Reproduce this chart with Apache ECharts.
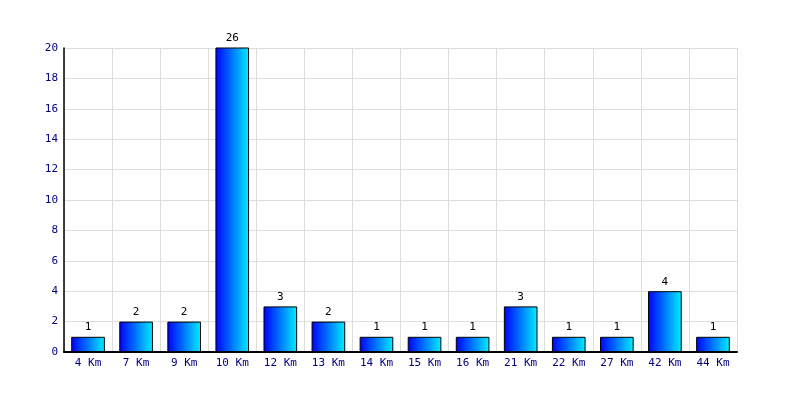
<!DOCTYPE html>
<html><head><meta charset="utf-8">
<script src="https://cdn.jsdelivr.net/npm/echarts@6/dist/echarts.min.js"></script>
<style>html,body{margin:0;padding:0;background:#fff}#c{width:800px;height:400px}</style>
</head><body><div id="c"></div>
<script>
const categories = ["4 Km","7 Km","9 Km","10 Km","12 Km","13 Km","14 Km","15 Km","16 Km","21 Km","22 Km","27 Km","42 Km","44 Km"];
const values = [1,2,2,26,3,2,1,1,1,3,1,1,4,1];
const yTicks = {min:0, max:20, interval:2};

const font = "DejaVu Sans Mono";
const chart = echarts.init(document.getElementById('c'), null, {renderer:'canvas'});
chart.setOption({
  animation:false,
  grid:{left:64, right:63, top:48, bottom:48, containLabel:false},
  xAxis:{
    type:'category', data:categories,
    axisLine:{lineStyle:{color:'#000', width:2}},
    axisTick:{show:false},
    axisLabel:{color:'#000080', fontFamily:font, fontSize:11, margin:6, interval:0},
    splitLine:{show:true, interval:0, lineStyle:{color:'#dddddd', width:1}}
  },
  yAxis:{
    type:'value', min:yTicks.min, max:yTicks.max, interval:yTicks.interval,
    axisLine:{show:true, lineStyle:{color:'#000', width:1.5}},
    axisTick:{show:false},
    axisLabel:{color:'#000080', fontFamily:font, fontSize:11, margin:6},
    splitLine:{show:true, lineStyle:{color:'#dddddd', width:1}}
  },
  series:[{
    type:'bar', data:values, barCategoryGap:'30%', clip:true,
    itemStyle:{
      borderColor:'#000', borderWidth:1,
      color:new echarts.graphic.LinearGradient(0,0,1,0,[{offset:0,color:'#0000ff'},{offset:1,color:'#00f0ff'}])
    },
    label:{show:true, position:'top', color:'#000', fontFamily:font, fontSize:11, distance:4}
  }]
});
</script></body></html>
